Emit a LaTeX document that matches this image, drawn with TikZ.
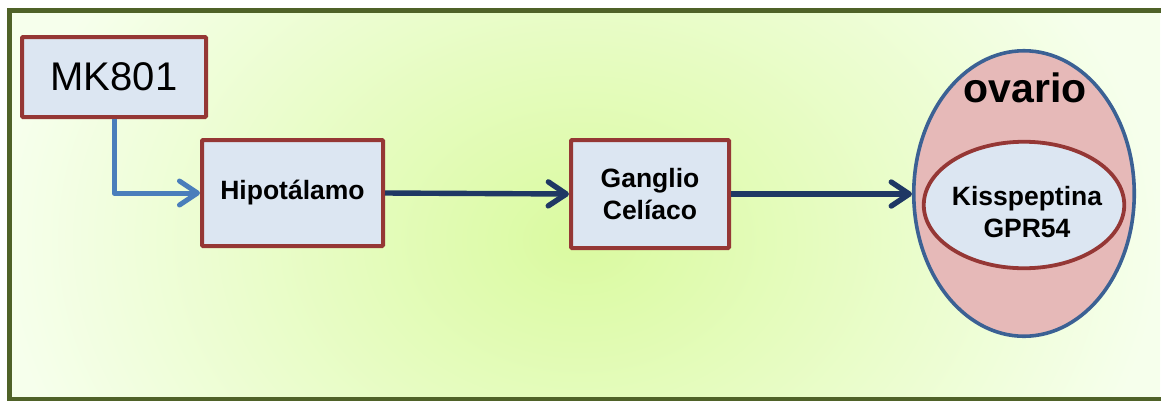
\documentclass[tikz,border=0pt]{standalone}
\usepackage{fontspec}
\setmainfont{Liberation Sans}
\usetikzlibrary{arrows.meta,shapes.geometric}

\definecolor{framegreen}{HTML}{4F6228}
\definecolor{boxred}{HTML}{953735}
\definecolor{boxfill}{HTML}{DCE6F2}
\definecolor{ovfill}{HTML}{E6B9B8}
\definecolor{ovline}{HTML}{3B6194}
\definecolor{lightarrow}{HTML}{4A7EBB}
\definecolor{darkarrow}{HTML}{1F3864}
\definecolor{bgin}{RGB}{218,250,160}
\definecolor{bgout}{RGB}{246,255,236}

\tikzset{
  boxnode/.style={draw=boxred, line width=4pt, fill=boxfill, inner sep=0pt,
    rounded corners=1pt, align=center},
  labeltext/.style={font=\bfseries\fontsize{26.5}{32}\selectfont},
  flowdark/.style={line width=5.4pt, draw=darkarrow,
    -{Straight Barb[length=18pt, width=24pt, round]}},
  flowlight/.style={line width=5pt, draw=lightarrow, line join=round,
    -{Straight Barb[length=18pt, width=24pt, round]}},
}

\begin{document}
\begin{tikzpicture}[x=1pt, y=-1pt]
  \useasboundingbox (0,0) rectangle (1161,400);

  % soft green radial background inside the frame
  \begin{scope}
    \clip (9,10) rectangle (1161,400);
    \shade[inner color=bgin, outer color=bgout] (0,-200) rectangle (1160,680);
  \end{scope}
  \draw[framegreen, line width=5pt] (9,10) rectangle (1180,399.5);

  % boxes
  \node[boxnode, minimum width=184pt, minimum height=80pt,
        font=\fontsize{40}{48}\selectfont] (mk) at (114,77) {MK801};
  \node[boxnode, labeltext, minimum width=181pt, minimum height=106pt]
        (hipo) at (292.5,193) {Hipotálamo};
  \node[boxnode, labeltext, minimum width=158pt, minimum height=108pt]
        (gang) at (650,194) {Ganglio\\Celíaco};

  % ovary with the inner receptor ellipse
  \node[ellipse, draw=ovline, line width=3.6pt, fill=ovfill, inner sep=0pt,
        minimum width=220.5pt, minimum height=285.5pt] (ov) at (1024,193.5) {};
  \node[font=\bfseries\fontsize{41}{48}\selectfont] (ovlabel) at (1025,88) {ovario};
  \node[ellipse, draw=boxred, line width=3.8pt, fill=boxfill, inner sep=0pt,
        minimum width=200.5pt, minimum height=126.5pt] (kiss) at (1024,205) {};
  \node[labeltext, align=center] (kisslabel) at (1027,212) {Kisspeptina\\GPR54};

  % connectors
  \coordinate (bend) at (mk.south |- hipo.west);
  \draw[flowlight] (mk.south) -- (bend) -- (hipo.west);
  \draw[flowdark] (hipo.east) -- (gang.west);
  \draw[flowdark] (gang.east) -- (gang.east -| ov.west);
\end{tikzpicture}
\end{document}
